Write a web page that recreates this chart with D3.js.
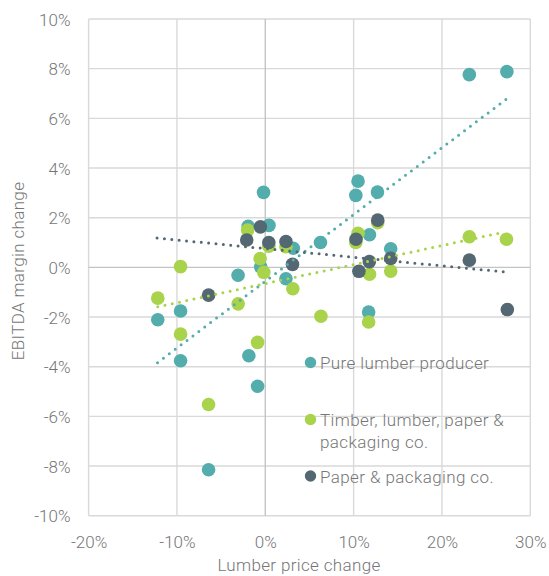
<!DOCTYPE html>
<html>
<head>
<meta charset="utf-8">
<script src="https://cdn.jsdelivr.net/npm/d3@7"></script>
<style>
  html, body { margin: 0; padding: 0; background: #ffffff; }
  svg text { font-family: Roboto, "Noto Sans", "Liberation Sans", sans-serif; font-weight: 300; }
</style>
</head>
<body>
<svg id="chart" width="549" height="576"></svg>
<script>
// ---- Data (values in %) ----
const seriesNames = ["Pure lumber producer", "Timber, lumber, paper & packaging co.", "Paper & packaging co."];

const pureLumberX = [23.1, 27.35, -0.2, 10.5, 10.25, 12.7, -1.94, 0.42, 6.25, 3.17, 11.8, 14.2, -3.08, -0.52, 2.34, -12.17, -9.59, -9.59, -1.86, -0.87, -6.42, 11.7];
const pureLumberY = [7.76, 7.88, 3.02, 3.47, 2.9, 3.03, 1.65, 1.69, 1.0, 0.77, 1.31, 0.75, -0.32, 0.02, -0.46, -2.11, -1.76, -3.76, -3.56, -4.79, -8.15, -1.8];

const timberX = [23.1, 27.3, -9.59, -2.0, -0.58, -0.17, 0.4, 2.34, 10.5, 10.25, 12.73, 11.8, 14.2, 3.12, -12.17, -3.07, -9.59, -0.87, -6.42, 6.3, 11.7];
const timberY = [1.23, 1.13, 0.03, 1.5, 0.35, -0.2, 0.85, 0.83, 1.37, 1.0, 1.8, -0.28, -0.15, -0.86, -1.24, -1.47, -2.69, -3.02, -5.52, -1.97, -2.2];

const paperX = [-0.55, -2.1, 0.4, 2.34, 3.08, 12.73, 10.27, 11.78, 14.2, 10.6, 23.1, -6.42, 27.4];
const paperY = [1.63, 1.1, 1.0, 1.04, 0.12, 1.9, 1.13, 0.23, 0.36, -0.16, 0.29, -1.12, -1.7];

// Trend line end points (x, y)
const pureTrendX = [-12.2, 27.35];
const pureTrendY = [-3.84, 6.79];
const timberTrendX = [-12.17, 27.05];
const timberTrendY = [-1.59, 1.42];
const paperTrendX = [-12.25, 26.95];
const paperTrendY = [1.18, -0.18];

const xTicks = [-20, -10, 0, 10, 20, 30];
const yTicks = [-10, -8, -6, -4, -2, 0, 2, 4, 6, 8, 10];

const colors = ["#52adac", "#a8d34b", "#546873"];

// ---- Chart ----
const svg = d3.select("#chart");
const x = d3.scaleLinear().domain([-20, 30]).range([88.6, 530.3]);
const y = d3.scaleLinear().domain([-10, 10]).range([515.7, 19]);
const textColor = "#767676";

const grid = svg.append("g");
grid.selectAll("line.v").data(xTicks.filter(d => d !== 0)).enter().append("line")
  .attr("x1", d => x(d)).attr("x2", d => x(d))
  .attr("y1", y(10)).attr("y2", y(-10))
  .attr("stroke", "#d9d9d9").attr("stroke-width", 1.4);
grid.selectAll("line.h").data(yTicks.filter(d => d !== 0)).enter().append("line")
  .attr("y1", d => y(d)).attr("y2", d => y(d))
  .attr("x1", x(-20)).attr("x2", x(30))
  .attr("stroke", "#d9d9d9").attr("stroke-width", 1.4);
// zero lines
grid.append("line").attr("x1", x(0)).attr("x2", x(0)).attr("y1", y(10)).attr("y2", y(-10))
  .attr("stroke", "#c4c4c4").attr("stroke-width", 1.4);
grid.append("line").attr("y1", y(0)).attr("y2", y(0)).attr("x1", x(-20)).attr("x2", x(30))
  .attr("stroke", "#c4c4c4").attr("stroke-width", 1.4);

// Axes labels via d3 axes
const yAxis = d3.axisLeft(y).tickValues(yTicks).tickSize(0).tickPadding(0)
  .tickFormat(d => d + "%");
const yg = svg.append("g").attr("transform", "translate(70.5,0)").call(yAxis);
yg.select(".domain").remove();
yg.selectAll("text").attr("font-size", 17).attr("fill", textColor)
  .attr("font-family", "Roboto, sans-serif").attr("font-weight", 300).attr("dy", "0.36em");

const xAxis = d3.axisBottom(x).tickValues(xTicks).tickSize(0).tickPadding(0)
  .tickFormat(d => d + "%");
const xg = svg.append("g").attr("transform", "translate(0,536)").call(xAxis);
xg.select(".domain").remove();
xg.selectAll("text").attr("font-size", 17).attr("fill", textColor)
  .attr("font-family", "Roboto, sans-serif").attr("font-weight", 300).attr("dy", "0.72em");

// Axis titles
svg.append("text").attr("x", 299).attr("y", 571)
  .attr("text-anchor", "middle").attr("font-size", 17).attr("fill", textColor)
  .attr("letter-spacing", 0.35)
  .text("Lumber price change");
svg.append("text").attr("transform", "translate(24,271) rotate(-90)")
  .attr("text-anchor", "middle").attr("font-size", 17).attr("fill", textColor)
  .attr("letter-spacing", 0.35)
  .text("EBITDA margin change");

// Points
const series = [
  { xs: pureLumberX, ys: pureLumberY, c: colors[0] },
  { xs: timberX, ys: timberY, c: colors[1] },
  { xs: paperX, ys: paperY, c: colors[2] }
];
series.forEach(s => {
  svg.append("g").selectAll("circle").data(s.xs.map((v, i) => [v, s.ys[i]])).enter()
    .append("circle")
    .attr("cx", d => x(d[0])).attr("cy", d => y(d[1]))
    .attr("r", 6.8).attr("fill", s.c);
});

// Trend lines (dotted)
const trends = [
  { xs: pureTrendX, ys: pureTrendY, c: colors[0] },
  { xs: timberTrendX, ys: timberTrendY, c: colors[1] },
  { xs: paperTrendX, ys: paperTrendY, c: colors[2] }
];
const lineGen = d3.line().x(d => x(d[0])).y(d => y(d[1]));
trends.forEach(t => {
  svg.append("path").datum(t.xs.map((v, i) => [v, t.ys[i]]))
    .attr("d", lineGen).attr("fill", "none")
    .attr("stroke", t.c).attr("stroke-width", 3)
    .attr("stroke-linecap", "round").attr("stroke-dasharray", "0 7.4");
});

// Legend
const legendDotX = 310.5;
const legendItems = [
  { lines: ["Pure lumber producer"], cy: 362.5, c: colors[0] },
  { lines: ["Timber, lumber, paper &", "packaging co."], cy: 419.5, c: colors[1] },
  { lines: ["Paper & packaging co."], cy: 476, c: colors[2] }
];
const lg = svg.append("g");
legendItems.forEach((it, k) => {
  lg.append("circle").attr("cx", legendDotX).attr("cy", it.cy).attr("r", 5.7).attr("fill", it.c);
  const t = lg.append("text").attr("x", 320).attr("y", it.cy + 6.5)
    .attr("font-size", 17).attr("fill", textColor).attr("letter-spacing", 0.4);
  it.lines.forEach((ln, j) => {
    t.append("tspan").attr("x", 320).attr("dy", j === 0 ? 0 : 21.5).text(ln);
  });
});
</script>
</body>
</html>
